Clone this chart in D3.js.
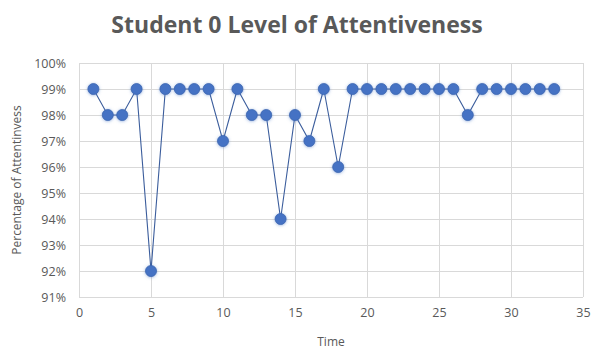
<!DOCTYPE html>
<html>
<head>
<meta charset="utf-8">
<script src="https://cdn.jsdelivr.net/npm/d3@7"></script>
<style>
  body { margin: 0; background: #fff; }
  text { font-family: "Open Sans", sans-serif; fill: #595959; }
</style>
</head>
<body>
<div id="chart"></div>
<script>
// Data
const times = [1, 2, 3, 4, 5, 6, 7, 8, 9, 10, 11, 12, 13, 14, 15, 16, 17, 18, 19, 20, 21, 22, 23, 24, 25, 26, 27, 28, 29, 30, 31, 32, 33];
const attentiveness = [0.99, 0.98, 0.98, 0.99, 0.92, 0.99, 0.99, 0.99, 0.99, 0.97, 0.99, 0.98, 0.98, 0.94, 0.98, 0.97, 0.99, 0.96, 0.99, 0.99, 0.99, 0.99, 0.99, 0.99, 0.99, 0.99, 0.98, 0.99, 0.99, 0.99, 0.99, 0.99, 0.99];
const xTicks = [0, 5, 10, 15, 20, 25, 30, 35];
const yTicks = [0.91, 0.92, 0.93, 0.94, 0.95, 0.96, 0.97, 0.98, 0.99, 1.00];

const width = 592, height = 349;
const margin = {top: 63, right: 9, bottom: 52, left: 79};

const points = times.map((t, i) => ({t: t, v: attentiveness[i]}));

const svg = d3.select('#chart')
    .append('svg')
    .attr('width', width)
    .attr('height', height);

// Soft glow under the markers
const defs = svg.append('defs');
const glow = defs.append('filter')
    .attr('id', 'glow')
    .attr('x', '-50%').attr('y', '-50%')
    .attr('width', '200%').attr('height', '200%');
glow.append('feDropShadow')
    .attr('dx', 0).attr('dy', 0.5)
    .attr('stdDeviation', 1.6)
    .attr('flood-color', '#4472c4')
    .attr('flood-opacity', 0.55);

const x = d3.scaleLinear()
    .domain([0, 35])
    .range([margin.left, width - margin.right]);

const y = d3.scaleLinear()
    .domain([0.91, 1.00])
    .range([height - margin.bottom, margin.top]);

// Grid lines
svg.append('g')
    .attr('transform', `translate(0,${height - margin.bottom})`)
    .call(d3.axisBottom(x)
        .tickValues(xTicks)
        .tickSize(-(height - margin.top - margin.bottom))
        .tickFormat(''))
    .call(g => g.select('.domain').remove())
    .call(g => g.selectAll('line').attr('stroke', '#d9d9d9'));

svg.append('g')
    .attr('transform', `translate(${margin.left},0)`)
    .call(d3.axisLeft(y)
        .tickValues(yTicks)
        .tickSize(-(width - margin.left - margin.right))
        .tickFormat(''))
    .call(g => g.select('.domain').remove())
    .call(g => g.selectAll('line').attr('stroke', '#d9d9d9'));

// Axis labels
svg.append('g')
    .attr('transform', `translate(0,${height - margin.bottom})`)
    .call(d3.axisBottom(x).tickValues(xTicks).tickSize(0).tickPadding(11))
    .call(g => g.select('.domain').remove())
    .selectAll('text')
    .style('font-size', '12.5px')
    .attr('fill', '#595959');

svg.append('g')
    .attr('transform', `translate(${margin.left},0)`)
    .call(d3.axisLeft(y).tickValues(yTicks).tickSize(0).tickPadding(13)
        .tickFormat(d3.format('.0%')))
    .call(g => g.select('.domain').remove())
    .selectAll('text')
    .style('font-size', '12.5px')
    .attr('fill', '#595959');

// Line
const line = d3.line()
    .x(d => x(d.t))
    .y(d => y(d.v));

svg.append('path')
    .datum(points)
    .attr('fill', 'none')
    .attr('stroke', '#3b5d9c')
    .attr('stroke-width', 1.1)
    .attr('d', line);

// Markers
svg.append('g')
    .attr('filter', 'url(#glow)')
    .selectAll('circle')
    .data(points)
    .enter()
    .append('circle')
    .attr('cx', d => x(d.t))
    .attr('cy', d => y(d.v))
    .attr('r', 5.5)
    .attr('fill', '#4472c4')
    .attr('stroke', '#3d66b0')
    .attr('stroke-width', 0.8);

// Title
svg.append('text')
    .attr('x', 297)
    .attr('y', 33)
    .attr('text-anchor', 'middle')
    .style('font-size', '23px')
    .style('font-weight', 'bold')
    .text('Student 0 Level of Attentiveness');

// Axis titles
svg.append('text')
    .attr('x', (margin.left + width - margin.right) / 2)
    .attr('y', 346)
    .attr('text-anchor', 'middle')
    .style('font-size', '12px')
    .text('Time');

svg.append('text')
    .attr('transform', `translate(21,${(margin.top + height - margin.bottom) / 2}) rotate(-90)`)
    .attr('text-anchor', 'middle')
    .style('font-size', '12px')
    .text('Percentage of Attentinvess');
</script>
</body>
</html>
